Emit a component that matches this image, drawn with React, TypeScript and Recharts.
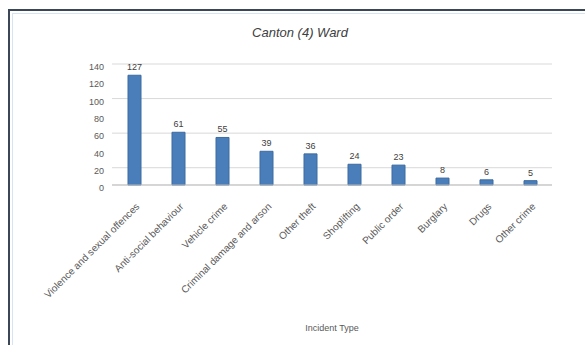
import { Bar, BarChart, CartesianGrid, LabelList, XAxis, YAxis } from "recharts";

const CRIME_TYPES = [
  "Violence and sexual offences",
  "Anti-social behaviour",
  "Vehicle crime",
  "Criminal damage and arson",
  "Other theft",
  "Shoplifting",
  "Public order",
  "Burglary",
  "Drugs",
  "Other crime",
];
const COUNTS = [127, 61, 55, 39, 36, 24, 23, 8, 6, 5];
const Y_TICKS = [0, 20, 40, 60, 80, 100, 120, 140];

const data = CRIME_TYPES.map((name, i) => ({ name, value: COUNTS[i] }));

const FONT = "'Liberation Sans', Arial, sans-serif";

function SlantTick({ x, y, payload }: any) {
  return (
    <g transform={`translate(${x + 4},${y + 12})`}>
      <text
        textAnchor="end"
        transform="rotate(-45)"
        fontSize={10}
        fill="#595959"
        fontFamily={FONT}
        dy={3}
      >
        {payload.value}
      </text>
    </g>
  );
}

export default function App() {
  return (
    <div style={{ position: "fixed", left: 0, top: 0, width: 585, height: 345, background: "#fff" }}>
      <div
        style={{
          position: "absolute",
          left: 8,
          top: 9,
          width: 585,
          height: 345,
          borderTop: "2px solid #3b4656",
          borderLeft: "2px solid #3b4656",
        }}
      />
      <div
        style={{
          position: "absolute",
          left: 12,
          top: 13,
          width: 585,
          height: 345,
          borderTop: "1px solid #d6e3f2",
          borderLeft: "1px solid #d6e3f2",
        }}
      />
      <div
        style={{
          position: "absolute",
          top: 25,
          left: 0,
          width: 600,
          textAlign: "center",
          fontFamily: FONT,
          fontSize: 13,
          fontStyle: "italic",
          color: "#404040",
        }}
      >
        Canton (4) Ward
      </div>
      <div style={{ position: "absolute", left: 0, top: 0 }}>
        <BarChart
          width={585}
          height={345}
          data={data}
          margin={{ top: 64, right: 33, left: 0, bottom: 0 }}
          barCategoryGap={0}
        >
          <CartesianGrid vertical={false} stroke="#d9d9d9" />
          <XAxis
            dataKey="name"
            interval={0}
            height={160}
            tickLine={false}
            axisLine={{ stroke: "#bfbfbf" }}
            tick={<SlantTick />}
            label={{
              value: "Incident Type",
              position: "insideBottom",
              offset: 14,
              fontSize: 9,
              fill: "#595959",
              fontFamily: FONT,
            }}
          />
          <YAxis
            width={112}
            domain={[0, 140]}
            ticks={Y_TICKS}
            tickLine={false}
            axisLine={false}
            tick={{ fontSize: 9, fill: "#595959", fontFamily: FONT, dy: 3 }}
          />
          <Bar dataKey="value" fill="#4a7ebb" stroke="#3c6a9f" barSize={13} isAnimationActive={false}>
            <LabelList
              dataKey="value"
              position="top"
              fontSize={9}
              fill="#404040"
              fontFamily={FONT}
            />
          </Bar>
        </BarChart>
      </div>
    </div>
  );
}
